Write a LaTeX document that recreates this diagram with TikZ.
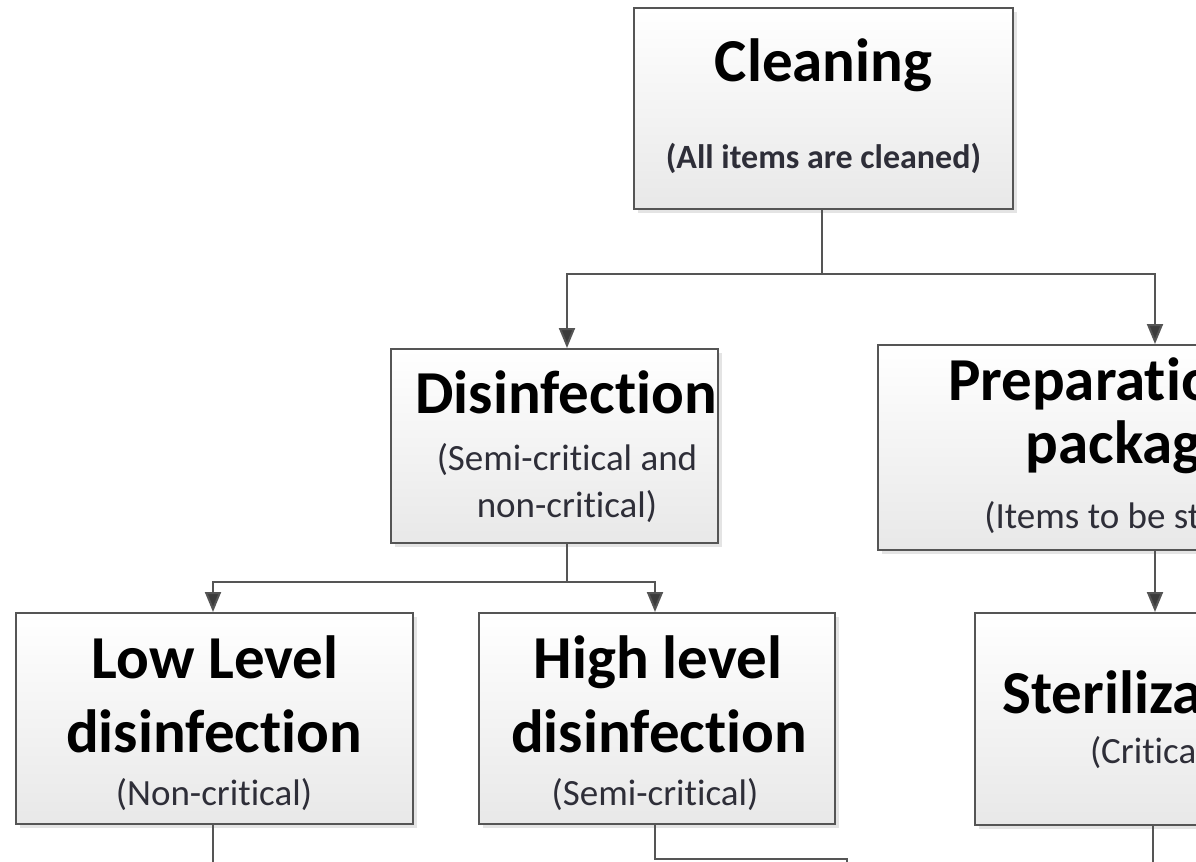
\documentclass[tikz,border=0pt]{standalone}
\usepackage{fontspec}
\setmainfont{Carlito}[Ligatures={NoCommon}]
\usetikzlibrary{arrows.meta,shadows}
\definecolor{lineC}{HTML}{555555}
\definecolor{tipC}{HTML}{3C3C3C}
\definecolor{subC}{HTML}{2E2E38}
\tikzset{
  box/.style={draw=lineC, line width=1pt, top color=white, bottom color=black!9,
    inner sep=0pt, drop shadow={shadow xshift=2pt, shadow yshift=-2pt, fill=black!30, opacity=0.35}},
  ttl/.style={anchor=base, inner sep=0pt, font=\fontsize{30.5pt}{36pt}\selectfont\bfseries, text=black},
  sub/.style={anchor=base, inner sep=0pt, font=\fontsize{18.5pt}{22pt}\selectfont, text=subC},
  subb/.style={anchor=base, inner sep=0pt, font=\fontsize{17pt}{20pt}\selectfont\bfseries, text=subC},
  conn/.style={draw=lineC, line width=1pt},
  arr/.style={conn, -{Triangle[width=8pt,length=10pt,fill=tipC]}},
}
\begin{document}
\begin{tikzpicture}[x=0.5pt,y=-0.5pt]
\useasboundingbox (0,0) rectangle (1196,862);
\clip (0,0) rectangle (1196,862);
\fill[white] (0,0) rectangle (1196,862);

% boxes
\node[box, minimum width=189.5pt, minimum height=100.5pt] (clean) at (823.5,108.5) {};
\node[box, minimum width=163.5pt, minimum height=97pt] (dis) at (554.5,446) {};
\node[box, minimum width=277pt, minimum height=102.5pt] (prep) at (1155,447.5) {};
\node[box, minimum width=198.5pt, minimum height=105.5pt] (low) at (214.5,718.5) {};
\node[box, minimum width=178pt, minimum height=105.5pt] (high) at (657,718.5) {};
\node[box, minimum width=178pt, minimum height=106pt] (ster) at (1153,719) {};

% texts
\node[ttl] (cleanT) at (823.5,82) {Cleaning};
\node[subb] (cleanS) at (823.5,168) {(All items are cleaned)};

\node[ttl] (disT) at (566,413) {Disinfection};
\node[sub] (disS1) at (567,470) {(Semi-critical and};
\node[sub] (disS2) at (567,517) {non-critical)};

\node[ttl] (prepT1) at (1152,400) {Preparation and};
\node[ttl] (prepT2) at (1152,463) {packaging};
\node[sub] (prepS) at (1152,528) {(Items to be sterilized)};

\node[ttl] (lowT1) at (215,678) {Low Level};
\node[ttl] (lowT2) at (214,752) {disinfection};
\node[sub] (lowS) at (214,805) {(Non-critical)};

\node[ttl] (highT1) at (658,678) {High level};
\node[ttl] (highT2) at (659,752) {disinfection};
\node[sub] (highS) at (655,805) {(Semi-critical)};

\node[ttl] (sterT) at (1153,713) {Sterilization};
\node[sub] (sterS) at (1153,763) {(Critical)};

% helper x positions
\coordinate (cx) at (822,0);
\coordinate (dx) at (567,0);
\coordinate (lx) at (213,0);
\coordinate (hx) at (655,0);
\coordinate (sx) at (1153,0);
\coordinate (hend) at (847,900);

% connectors
\draw[arr] (clean.south -| cx) -- ++(0,64) -| (dis.north -| dx);
\draw[arr] (clean.south -| cx) -- ++(0,64) -| (prep.north);
\draw[arr] (dis.south -| dx) -- ++(0,38) -| (low.north -| lx);
\draw[arr] (dis.south -| dx) -- ++(0,38) -| (high.north -| hx);
\draw[arr] (prep.south) -- (prep.south |- ster.north);
\draw[conn] (low.south -| lx) -- ++(0,60);
\draw[conn] (high.south -| hx) -- ++(0,34) -| (hend);
\draw[conn] (ster.south -| sx) -- ++(0,60);
\end{tikzpicture}
\end{document}
